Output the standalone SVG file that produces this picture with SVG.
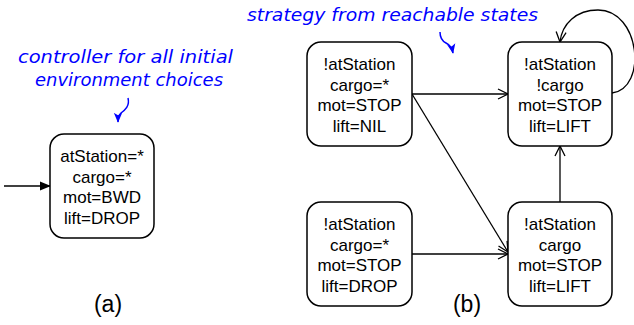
<svg xmlns="http://www.w3.org/2000/svg" width="634" height="325" viewBox="0 0 634 325">
  <style>
    .node rect { fill: #fff; stroke: #000; stroke-width: 1.5; }
    .node text { font-family: "Liberation Sans", Arial, sans-serif; font-size: 17px; fill: #000; text-anchor: middle; }
    .conn { fill: none; stroke: #000; stroke-width: 1.3; }
    .note { font-family: "DejaVu Sans", sans-serif; font-style: italic; font-size: 17px; fill: #0000ff; }
    .noteArrow { fill: none; stroke: #0000ff; stroke-width: 1.5; }
    .cap { font-family: "Liberation Sans", Arial, sans-serif; font-size: 23px; fill: #000; text-anchor: middle; }
  </style>
  <defs>
    <marker id="open" viewBox="0 0 12 12" refX="11" refY="6" markerWidth="12" markerHeight="12" markerUnits="userSpaceOnUse" orient="auto">
      <path d="M1,1 L11,6 L1,11" fill="none" stroke="#000" stroke-width="1.3"/>
    </marker>
    <marker id="filled" viewBox="0 0 12 12" refX="11" refY="6" markerWidth="11" markerHeight="11" markerUnits="userSpaceOnUse" orient="auto">
      <path d="M0,1 L12,6 L0,11 Z" fill="#000"/>
    </marker>
    <marker id="blue" viewBox="0 0 12 12" refX="11" refY="6" markerWidth="10" markerHeight="10" markerUnits="userSpaceOnUse" orient="auto">
      <path d="M0,1 L12,6 L0,11 L3,6 Z" fill="#0000ff"/>
    </marker>
  </defs>

  <g id="annotations">
    <text class="note" x="18" y="63" textLength="215" lengthAdjust="spacingAndGlyphs">controller for all initial</text>
    <text class="note" x="35" y="86" textLength="188" lengthAdjust="spacingAndGlyphs">environment choices</text>
    <path class="noteArrow" d="M128,98 C130,106 125,110 121,113 C119,115 118,118 118,122" marker-end="url(#blue)"/>
    <text class="note" x="247" y="21" textLength="291" lengthAdjust="spacingAndGlyphs">strategy from reachable states</text>
    <path class="noteArrow" d="M440,32 C440,38 442,41 446,43 C450,45 452,48 453,53" marker-end="url(#blue)"/>
  </g>

  <g id="connectors">
    <line class="conn" x1="4" y1="186" x2="50" y2="186" marker-end="url(#filled)"/>
    <line class="conn" x1="412" y1="94" x2="508" y2="94" marker-end="url(#open)"/>
    <line class="conn" x1="412" y1="94" x2="508" y2="252" marker-end="url(#open)"/>
    <line class="conn" x1="412" y1="254" x2="508" y2="254" marker-end="url(#open)"/>
    <line class="conn" x1="560" y1="202" x2="560" y2="146" marker-end="url(#open)"/>
    <path class="conn" d="M612,93 C648,88 640,10 598,10 C576,10 562,24 560,42" marker-end="url(#open)"/>
  </g>

  <g id="node-a" class="node">
    <rect x="50" y="134" width="104" height="104" rx="14"/>
    <text x="102" y="162">atStation=*</text>
    <text x="102" y="182.5">cargo=*</text>
    <text x="102" y="203">mot=BWD</text>
    <text x="102" y="223.5">lift=DROP</text>
  </g>

  <g id="node-b1" class="node">
    <rect x="307" y="42" width="105" height="104" rx="14"/>
    <text x="359.5" y="70">!atStation</text>
    <text x="359.5" y="90.5">cargo=*</text>
    <text x="359.5" y="111">mot=STOP</text>
    <text x="359.5" y="131.5">lift=NIL</text>
  </g>

  <g id="node-b2" class="node">
    <rect x="508" y="42" width="104" height="104" rx="14"/>
    <text x="560" y="70">!atStation</text>
    <text x="560" y="90.5">!cargo</text>
    <text x="560" y="111">mot=STOP</text>
    <text x="560" y="131.5">lift=LIFT</text>
  </g>

  <g id="node-b3" class="node">
    <rect x="307" y="202" width="105" height="104" rx="14"/>
    <text x="359.5" y="230">!atStation</text>
    <text x="359.5" y="250.5">cargo=*</text>
    <text x="359.5" y="271">mot=STOP</text>
    <text x="359.5" y="291.5">lift=DROP</text>
  </g>

  <g id="node-b4" class="node">
    <rect x="508" y="202" width="104" height="104" rx="14"/>
    <text x="560" y="230">!atStation</text>
    <text x="560" y="250.5">cargo</text>
    <text x="560" y="271">mot=STOP</text>
    <text x="560" y="291.5">lift=LIFT</text>
  </g>

  <g id="captions">
    <text class="cap" x="108" y="312">(a)</text>
    <text class="cap" x="467" y="312">(b)</text>
  </g>
</svg>
